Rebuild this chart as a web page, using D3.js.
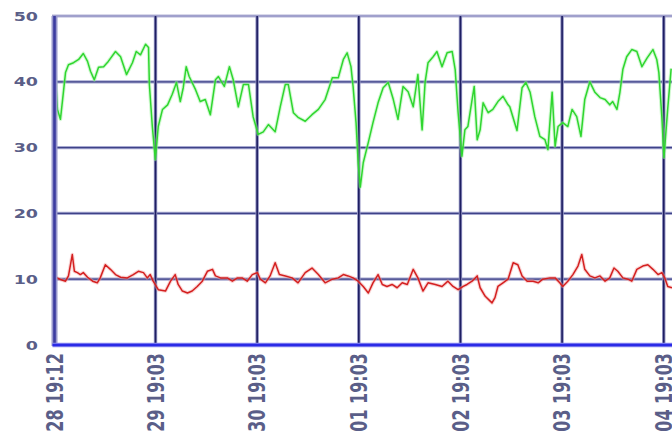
<!DOCTYPE html>
<html>
<head>
<meta charset="utf-8">
<script src="https://cdn.jsdelivr.net/npm/d3@7/dist/d3.min.js"></script>
<style>
html,body{margin:0;padding:0;background:#fff;}
svg{display:block;}
</style>
</head>
<body>
<svg id="chart" width="672" height="436"></svg>
<script>
// hours since 28 19:12
const greenHours = [0.2,0.7,1.4,2.1,2.6,3.3,4.5,5.7,6.8,7.8,8.5,9.4,10.4,11.6,12.7,14.4,15.6,17.0,18.4,19.3,20.3,21.5,22.2,22.4,23.1,23.8,24.5,25.5,26.7,27.8,28.8,29.7,30.4,31.1,31.8,33.3,34.4,35.6,36.8,38.0,38.7,40.1,41.3,42.2,43.4,44.6,45.8,46.9,48.1,49.3,50.5,52.1,53.3,54.5,55.2,56.4,57.5,59.2,60.8,62.3,63.9,65.6,67.0,68.2,69.1,70.0,70.5,71.2,71.7,72.2,72.9,74.1,75.2,76.4,77.6,78.8,80.0,81.1,82.3,83.5,84.7,85.8,86.8,87.5,88.2,89.4,90.3,91.5,92.7,93.9,94.6,95.3,96.2,96.9,97.6,98.6,99.1,99.8,100.5,101.2,102.4,103.5,104.7,105.9,107.1,107.5,109.2,110.4,111.3,112.3,113.4,114.6,115.8,116.5,117.5,118.2,118.9,120.0,121.2,122.2,123.3,124.3,125.2,126.4,127.6,128.8,130.0,131.1,131.8,132.8,133.5,134.2,135.1,136.3,137.5,138.7,139.9,141.3,142.2,142.7,143.4,143.9,144.8,145.6];
const greenValues = [41.1,35.8,34.3,38.4,41.4,42.6,42.9,43.4,44.3,43.1,41.6,40.3,42.2,42.3,43.1,44.6,43.8,41.1,42.9,44.6,44.1,45.7,45.2,39.6,33.2,28.2,33.2,35.8,36.5,38.1,39.9,37.0,39.1,42.3,40.8,38.8,37.0,37.3,35.0,40.3,40.8,39.3,42.3,40.3,36.2,39.6,39.6,34.7,32.0,32.4,33.5,32.4,36.2,39.6,39.6,35.3,34.6,34.0,35.0,35.8,37.3,40.6,40.6,43.4,44.4,42.3,39.3,33.8,27.7,24.0,27.7,30.8,33.8,36.8,39.1,39.9,37.3,34.3,39.3,38.5,36.2,41.1,32.7,39.9,42.9,43.8,44.6,42.3,44.4,44.6,41.9,35.3,28.7,32.7,33.2,37.3,39.3,31.2,32.7,36.8,35.3,35.8,37.0,37.8,36.5,36.2,32.6,39.1,39.9,38.4,34.7,31.7,31.2,29.7,38.4,30.2,33.2,33.8,33.2,35.8,34.7,31.7,37.3,40.0,38.4,37.6,37.3,36.5,37.0,35.8,38.4,41.9,43.8,44.9,44.6,42.3,43.6,44.9,43.4,41.4,34.7,28.5,36.0,42.0];

const redHours = [0.2,1.4,2.6,3.3,4.2,4.7,5.4,6.1,6.8,7.8,9.0,10.1,10.8,12.0,13.2,14.4,15.6,17.2,18.6,19.8,21.0,21.9,22.6,23.3,24.5,26.2,27.4,28.5,29.2,30.2,31.4,32.5,33.7,34.9,36.1,37.3,38.0,39.2,40.8,42.0,43.2,44.3,45.5,46.7,47.9,48.6,49.8,50.9,52.1,53.1,54.5,56.1,57.5,59.2,60.8,62.3,63.9,65.6,67.0,68.2,69.3,70.5,71.7,72.9,74.1,75.2,76.4,77.4,78.5,79.7,80.9,82.1,83.3,84.7,85.8,87.0,88.2,89.9,91.5,92.9,94.1,95.3,96.5,97.4,98.6,99.8,100.5,101.7,103.3,104.0,104.7,105.9,107.1,108.3,109.4,110.4,111.6,113.0,114.2,115.3,117.0,118.2,119.3,120.0,121.2,122.4,123.6,124.5,125.2,126.4,127.6,128.8,130.0,131.1,132.1,133.0,134.2,135.4,136.3,137.5,138.9,140.1,141.3,142.5,143.4,144.1,144.8,145.8];
const redValues = [10.3,9.95,9.7,10.5,13.75,11.2,11.0,10.7,11.0,10.3,9.7,9.45,10.2,12.2,11.5,10.7,10.3,10.2,10.7,11.2,11.0,10.2,10.7,9.7,8.4,8.2,9.7,10.7,9.2,8.2,7.9,8.2,8.9,9.7,11.2,11.5,10.5,10.2,10.2,9.7,10.2,10.2,9.7,10.7,11.0,10.0,9.45,10.5,12.5,10.7,10.5,10.2,9.45,11.0,11.7,10.7,9.45,10.0,10.2,10.7,10.5,10.2,9.7,8.9,7.9,9.45,10.7,9.2,8.9,9.2,8.7,9.45,9.2,11.5,10.2,8.2,9.45,9.2,8.9,9.7,8.9,8.4,8.9,9.2,9.7,10.5,8.7,7.4,6.4,7.2,8.9,9.45,10.0,12.5,12.2,10.5,9.7,9.7,9.45,10.0,10.2,10.2,9.45,8.9,9.7,10.7,12.0,13.75,11.5,10.5,10.2,10.5,9.7,10.2,11.7,11.2,10.2,10.0,9.7,11.5,12.0,12.2,11.5,10.7,11.0,10.2,8.9,8.7];

const yTicks = [0,10,20,30,40,50];
const xTickHours = [0,23.85,47.85,71.85,95.85,119.85,143.85];
const xTickLabels = ["28 19:12","29 19:03","30 19:03","01 19:03","02 19:03","03 19:03","04 19:03"];

const svg = d3.select("#chart");
const x = d3.scaleLinear().domain([0,145.8]).range([54.5,672]);
const y = d3.scaleLinear().domain([0,50]).range([345,16]);
const yTop = y(50), yBottom = y(0);

// horizontal grid
const hg = svg.append("g");
yTicks.filter(d=>d>0).forEach(d=>{
  hg.append("line").attr("x1",52).attr("x2",672).attr("y1",y(d)).attr("y2",y(d))
    .attr("stroke", d===50 ? "#b4b4d6" : "#a6a8d0").attr("stroke-width",3.2);
  hg.append("line").attr("x1",52).attr("x2",672).attr("y1",y(d)).attr("y2",y(d))
    .attr("stroke", d===50 ? "#9a9ac8" : "#3e4288").attr("stroke-width",1.3);
});
// vertical grid
const vg = svg.append("g");
xTickHours.slice(1).forEach(h=>{
  vg.append("line").attr("x1",x(h)).attr("x2",x(h)).attr("y1",yTop).attr("y2",yBottom)
    .attr("stroke","#8f90c0").attr("stroke-width",3.4);
  vg.append("line").attr("x1",x(h)).attr("x2",x(h)).attr("y1",yTop).attr("y2",yBottom)
    .attr("stroke","#1e1e62").attr("stroke-width",1.6);
});

// lines
const lineGen = (hours, vals) => d3.line().x((d,i)=>x(hours[i])).y(d=>y(d))(vals);
function drawSeries(hours, vals, halo, core){
  svg.append("path").attr("d", lineGen(hours, vals)).attr("fill","none")
    .attr("stroke",halo).attr("stroke-width",3.6).attr("stroke-linejoin","round").attr("opacity",0.45);
  svg.append("path").attr("d", lineGen(hours, vals)).attr("fill","none")
    .attr("stroke",core).attr("stroke-width",1.5).attr("stroke-linejoin","round");
}
drawSeries(greenHours, greenValues, "#9af29a", "#2fd62f");
drawSeries(redHours, redValues, "#f2a0a0", "#d42020");

// axes
svg.append("line").attr("x1",x(0)).attr("x2",x(0)).attr("y1",yTop).attr("y2",yBottom+1)
  .attr("stroke","#9898cc").attr("stroke-width",6);
svg.append("line").attr("x1",x(0)).attr("x2",x(0)).attr("y1",yTop).attr("y2",yBottom+1)
  .attr("stroke","#3c3ca0").attr("stroke-width",2.6);
svg.append("line").attr("x1",x(0)-2).attr("x2",672).attr("y1",yBottom).attr("y2",yBottom)
  .attr("stroke","#8c8cf0").attr("stroke-width",4.5);
svg.append("line").attr("x1",x(0)-2).attr("x2",672).attr("y1",yBottom).attr("y2",yBottom)
  .attr("stroke","#2a2ae6").attr("stroke-width",2.4);

// y labels
svg.append("g").selectAll("text").data(yTicks).join("text")
  .attr("transform", d=>`translate(38,${y(d)}) scale(1.4,1)`)
  .attr("text-anchor","end").attr("dy","0.36em")
  .attr("font-family","DejaVu Sans").attr("font-weight","bold").attr("font-size",12.5)
  .attr("fill","#5a5e88")
  .text(d=>d);

// x labels
svg.append("g").selectAll("text").data(xTickHours).join("text")
  .attr("transform", d=>`translate(${x(d)},353) scale(1.4,1) rotate(-90)`)
  .attr("text-anchor","end").attr("dy","0.36em")
  .attr("font-family","DejaVu Sans").attr("font-weight","bold").attr("font-size",16)
  .attr("fill","#5a5e88")
  .text((d,i)=>xTickLabels[i]);
</script>
</body>
</html>
